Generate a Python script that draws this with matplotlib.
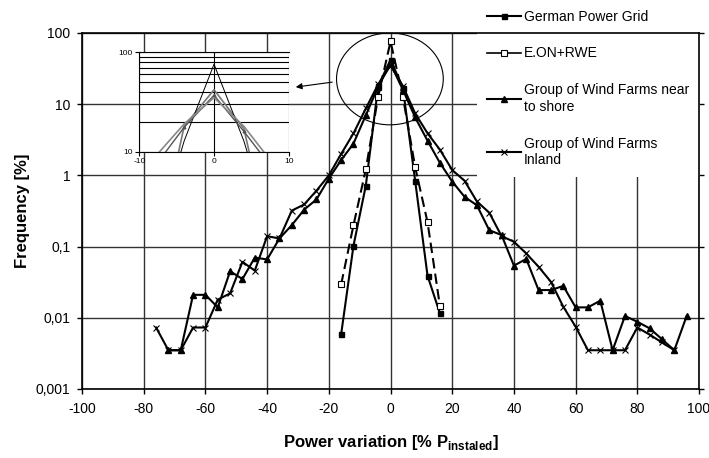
import matplotlib
matplotlib.use("Agg")
import matplotlib.pyplot as plt
from matplotlib.lines import Line2D
from matplotlib.patches import Ellipse

plt.rcParams['font.family'] = ['Liberation Sans', 'DejaVu Sans']
plt.rcParams['mathtext.fontset'] = 'custom'
plt.rcParams['mathtext.rm'] = 'Liberation Sans'

# data
grid_x = [-16, -12, -8, -4, 0, 4, 8, 12, 16]
german = [0.0059, 0.103, 0.72, 18, 42, 17, 0.83, 0.039, 0.0116]
eon = [0.0295, 0.2, 1.22, 12.8, 76, 12.8, 1.3, 0.22, 0.0147]

shore_x = [-72, -68, -64, -60, -56, -52, -48, -44, -40, -36, -32, -28, -24, -20,
           -16, -12, -8, -4, 0, 4, 8, 12, 16, 20, 24, 28, 32, 36, 40, 44, 48,
           52, 56, 60, 64, 68, 72, 76, 80, 84, 88, 92, 96]
shore = [0.0035, 0.0035, 0.021, 0.021, 0.014, 0.045, 0.035, 0.07, 0.066, 0.13,
         0.2, 0.33, 0.46, 0.9, 1.64, 2.8, 7.0, 17.6, 37, 16, 6.5, 3.07, 1.5,
         0.82, 0.5, 0.38, 0.17, 0.145, 0.054, 0.067, 0.0245, 0.0245, 0.028,
         0.014, 0.014, 0.0174, 0.0035, 0.0106, 0.0088, 0.0071, 0.005, 0.0035,
         0.0106]

inland_x = [-76, -72, -68, -64, -60, -56, -52, -48, -44, -40, -36, -32, -28, -24,
            -20, -16, -12, -8, -4, 0, 4, 8, 12, 16, 20, 24, 28, 32, 36, 40, 44,
            48, 52, 56, 60, 64, 68, 72, 76, 80, 84, 88, 92]
inland = [0.0073, 0.0035, 0.0035, 0.0073, 0.0073, 0.018, 0.022, 0.061, 0.046,
          0.14, 0.13, 0.32, 0.39, 0.61, 1.0, 2.0, 3.9, 8.7, 19, 35, 18, 7.4,
          3.9, 2.3, 1.19, 0.84, 0.43, 0.3, 0.14, 0.117, 0.08, 0.052, 0.032,
          0.0143, 0.0075, 0.0035, 0.0035, 0.0035, 0.0035, 0.0073, 0.0058,
          0.0045, 0.0035]

xticks = [-100, -80, -60, -40, -20, 0, 20, 40, 60, 80, 100]
yticks = [0.001, 0.01, 0.1, 1, 10, 100]
ylabels = ["0,001", "0,01", "0,1", "1", "10", "100"]

fig = plt.figure(figsize=(7.09, 4.58), dpi=100)
ax = fig.add_axes([0.1157, 0.1507, 0.8702, 0.7773])

ax.plot(grid_x, german, "-s", color="black", lw=1.5, ms=3.6, label="German Power Grid")
ax.plot(grid_x, eon, color="black", lw=1.5, ls=(0, (5, 2.5)), marker="s", ms=4.2,
        mfc="white", mec="black", mew=0.8)
ax.plot(shore_x, shore, "-^", color="black", lw=1.5, ms=4.5,
        label="Group of Wind Farms near\nto shore")
ax.plot(inland_x, inland, "-x", color="black", lw=1.5, ms=5, mew=0.8,
        label="Group of Wind Farms\nInland")

ax.set_yscale("log")
ax.set_xlim(-100, 100)
ax.set_ylim(0.001, 100)
ax.set_xticks(xticks)
ax.set_xticklabels([str(t) for t in xticks])
ax.set_yticks(yticks)
ax.set_yticklabels(ylabels)
ax.minorticks_off()
ax.tick_params(axis="both", labelsize=10, direction="out", length=3.5, width=1)
ax.tick_params(axis="x", pad=6)
ax.tick_params(axis="y", pad=5, right=True)
ax.grid(True, color="#333333", lw=1)
for s in ax.spines.values():
    s.set_linewidth(1.2)

ax.set_xlabel(r"Power variation [% P$_{\mathregular{instaled}}$]", fontsize=12,
              fontweight="bold")
ax.xaxis.set_label_coords(0.5, -0.125)
ax.set_ylabel("Frequency [%]", fontsize=12, fontweight="bold")
ax.yaxis.set_label_coords(-0.084, 0.5)

# legend, white box over the top right of the plot
h = ax.get_legend_handles_labels()[0]
eon_h = Line2D([], [], color="black", lw=1.2, marker="s", ms=4, mfc="white", mew=0.8)
leg = ax.legend([h[0], eon_h, h[1], h[2]],
                ["German Power Grid", "E.ON+RWE", "Group of Wind Farms near\nto shore",
                 "Group of Wind Farms\nInland"],
                loc="upper left", bbox_to_anchor=(0.640, 1.095), frameon=True,
                facecolor="white", edgecolor="none", framealpha=1, fancybox=False,
                fontsize=10, handlelength=2.4, handletextpad=0.25, labelspacing=1.65,
                borderpad=0.75, borderaxespad=0)
leg.set_zorder(2.4)

# ellipse round the peak and arrow to the inset
ax.add_patch(Ellipse((0.499, 0.871), 0.173, 0.258, transform=ax.transAxes,
                     fill=False, lw=0.8, color="black", zorder=3))
ax.annotate("", xy=(0.342, 0.847), xytext=(0.410, 0.863), xycoords="axes fraction",
            arrowprops=dict(arrowstyle="-|>", color="black", lw=0.8,
                            mutation_scale=9))

# inset with the peak
ins = fig.add_axes([0.1965, 0.6688, 0.2107, 0.2170])
ins.set_facecolor("white")
ins.plot(grid_x, german, "-", color="#777777", lw=1.2)
ins.plot(grid_x, eon, "-", color="black", lw=0.7)
ins.plot(shore_x, shore, "-^", color="#555555", lw=1.0, ms=2)
ins.plot(inland_x, inland, "-", color="#888888", lw=1.2)
ins.set_yscale("log")
ins.set_xlim(-10, 10)
ins.set_ylim(10, 100)
ins.set_xticks([-10, 0, 10])
ins.set_xticklabels(["-10", "0", "10"])
ins.set_yticks([10, 100])
ins.set_yticklabels(["10", "100"])
ins.set_yticks([20, 30, 40, 50, 60, 70, 80, 90], minor=True)
ins.tick_params(axis="y", which="minor", length=0, labelleft=False)
ins.tick_params(axis="both", which="major", labelsize=6, length=3, pad=1.5)
ins.grid(True, which="both", axis="y", color="black", lw=0.8)
ins.grid(True, which="major", axis="x", color="black", lw=0.8)
ins.spines["right"].set_visible(False)
ins.spines["top"].set_linewidth(0.8)

plt.savefig("out.png", dpi=100)
